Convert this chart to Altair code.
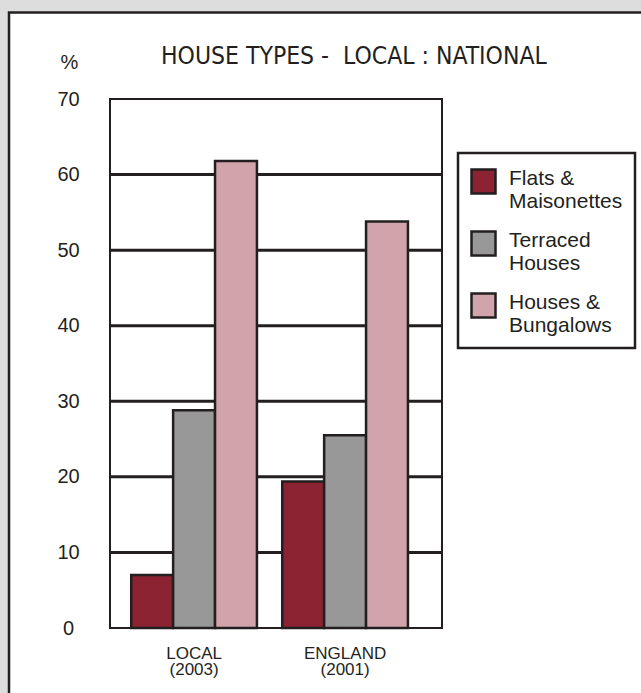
import altair as alt
import pandas as pd

groups = ["LOCAL|(2003)", "ENGLAND|(2001)"]
types = ["Flats &|Maisonettes", "Terraced|Houses", "Houses &|Bungalows"]
local_pct = [7.0, 28.8, 61.8]
england_pct = [19.4, 25.5, 53.8]
colors = ["#8b2332", "#989898", "#d1a4ab"]
y_ticks = [0, 10, 20, 30, 40, 50, 60, 70]
grid_values = [10, 20, 30, 40, 50, 60]
title_text = "HOUSE TYPES - \u00a0LOCAL : NATIONAL"

rows = []
for g, vals in zip(groups, [local_pct, england_pct]):
    for t, v in zip(types, vals):
        rows.append({"group": g, "type": t, "pct": v})
df = pd.DataFrame(rows)

W, H = 332, 529
INK = "#231f20"
FONT = "Liberation Sans, Arial, sans-serif"
NARROW = "Liberation Sans Narrow, DejaVu Sans Condensed, sans-serif"

yscale = alt.Scale(domain=[0, 70], nice=False, zero=True)
yaxis = alt.Axis(values=y_ticks, grid=False, domain=False, ticks=False, tickSize=0,
                 labelPadding=42, labelAlign="center", labelBaseline="middle",
                 labelFontSize=20, labelFont=FONT, labelColor=INK,
                 title="%", titleAngle=0, titleX=-41, titleY=-37,
                 titleAlign="center", titleBaseline="middle", titleFontSize=20,
                 titleFont=FONT, titleFontWeight="normal", titleColor=INK, zindex=1)
xaxis = alt.Axis(title=None, domain=False, ticks=False, tickSize=0, grid=False,
                 labelAngle=0, labelExpr="split(datum.label, '|')",
                 labelFontSize=17, labelLineHeight=16, labelPadding=17,
                 labelBaseline="top", labelFont=FONT, labelColor=INK, zindex=1)

panel = alt.Chart(pd.DataFrame({"k": [0]})).mark_rect(
    fill="white", stroke=INK, strokeWidth=2.5
).encode(x=alt.value(-101), x2=alt.value(W + 260), y=alt.value(-86.5), y2=alt.value(H + 80))

grid = alt.Chart(pd.DataFrame({"pct": grid_values})).mark_rule(
    color=INK, strokeWidth=3
).encode(y=alt.Y("pct:Q", scale=yscale, axis=yaxis), x=alt.value(0), x2=alt.value(W - 1))

bars = alt.Chart(df).mark_bar(stroke=INK, strokeWidth=2.5, opacity=1).encode(
    x=alt.X("group:N", sort=groups, axis=xaxis,
            scale=alt.Scale(paddingInner=0.1675, paddingOuter=0.183, align=0.384)),
    xOffset=alt.XOffset("type:N", sort=types, scale=alt.Scale(paddingInner=0, paddingOuter=0)),
    y=alt.Y("pct:Q", scale=yscale, axis=yaxis),
    color=alt.Color("type:N", sort=types, scale=alt.Scale(domain=types, range=colors),
                    legend=alt.Legend(title=None, orient="none", legendX=348, legendY=54,
                                      direction="vertical",
                                      labelExpr="split(datum.label, '|')",
                                      labelFontSize=21, labelFont=FONT,
                                      labelBaseline="middle", labelColor=INK, labelOffset=12,
                                      labelLimit=300,
                                      symbolType="M-1,-0.75H1V1.25H-1Z", symbolSize=576,
                                      symbolStrokeColor=INK, symbolStrokeWidth=2.5,
                                      symbolOpacity=1, rowPadding=14, padding=12,
                                      strokeColor=INK, fillColor="white")),
)

frame = alt.Chart(pd.DataFrame({"k": [0]})).mark_rect(
    fillOpacity=0, stroke=INK, strokeWidth=2
).encode(x=alt.value(0), x2=alt.value(W), y=alt.value(0), y2=alt.value(H))

chart = alt.layer(panel, grid, bars, frame).properties(
    width=W, height=H,
    title=alt.TitleParams(title_text, anchor="start", frame="group",
                          dx=51, dy=77, offset=0, fontSize=24.5, font=NARROW, fontWeight="normal",
                          color=INK, baseline="alphabetic"),
    padding={"left": 110, "top": 99, "right": 199, "bottom": 65},
    autosize="none",
    background="#dddddd",
).configure_view(stroke=None).configure_legend(strokeWidth=2.5)

chart.save("out.html", embed_options={"renderer": "svg", "actions": False})
